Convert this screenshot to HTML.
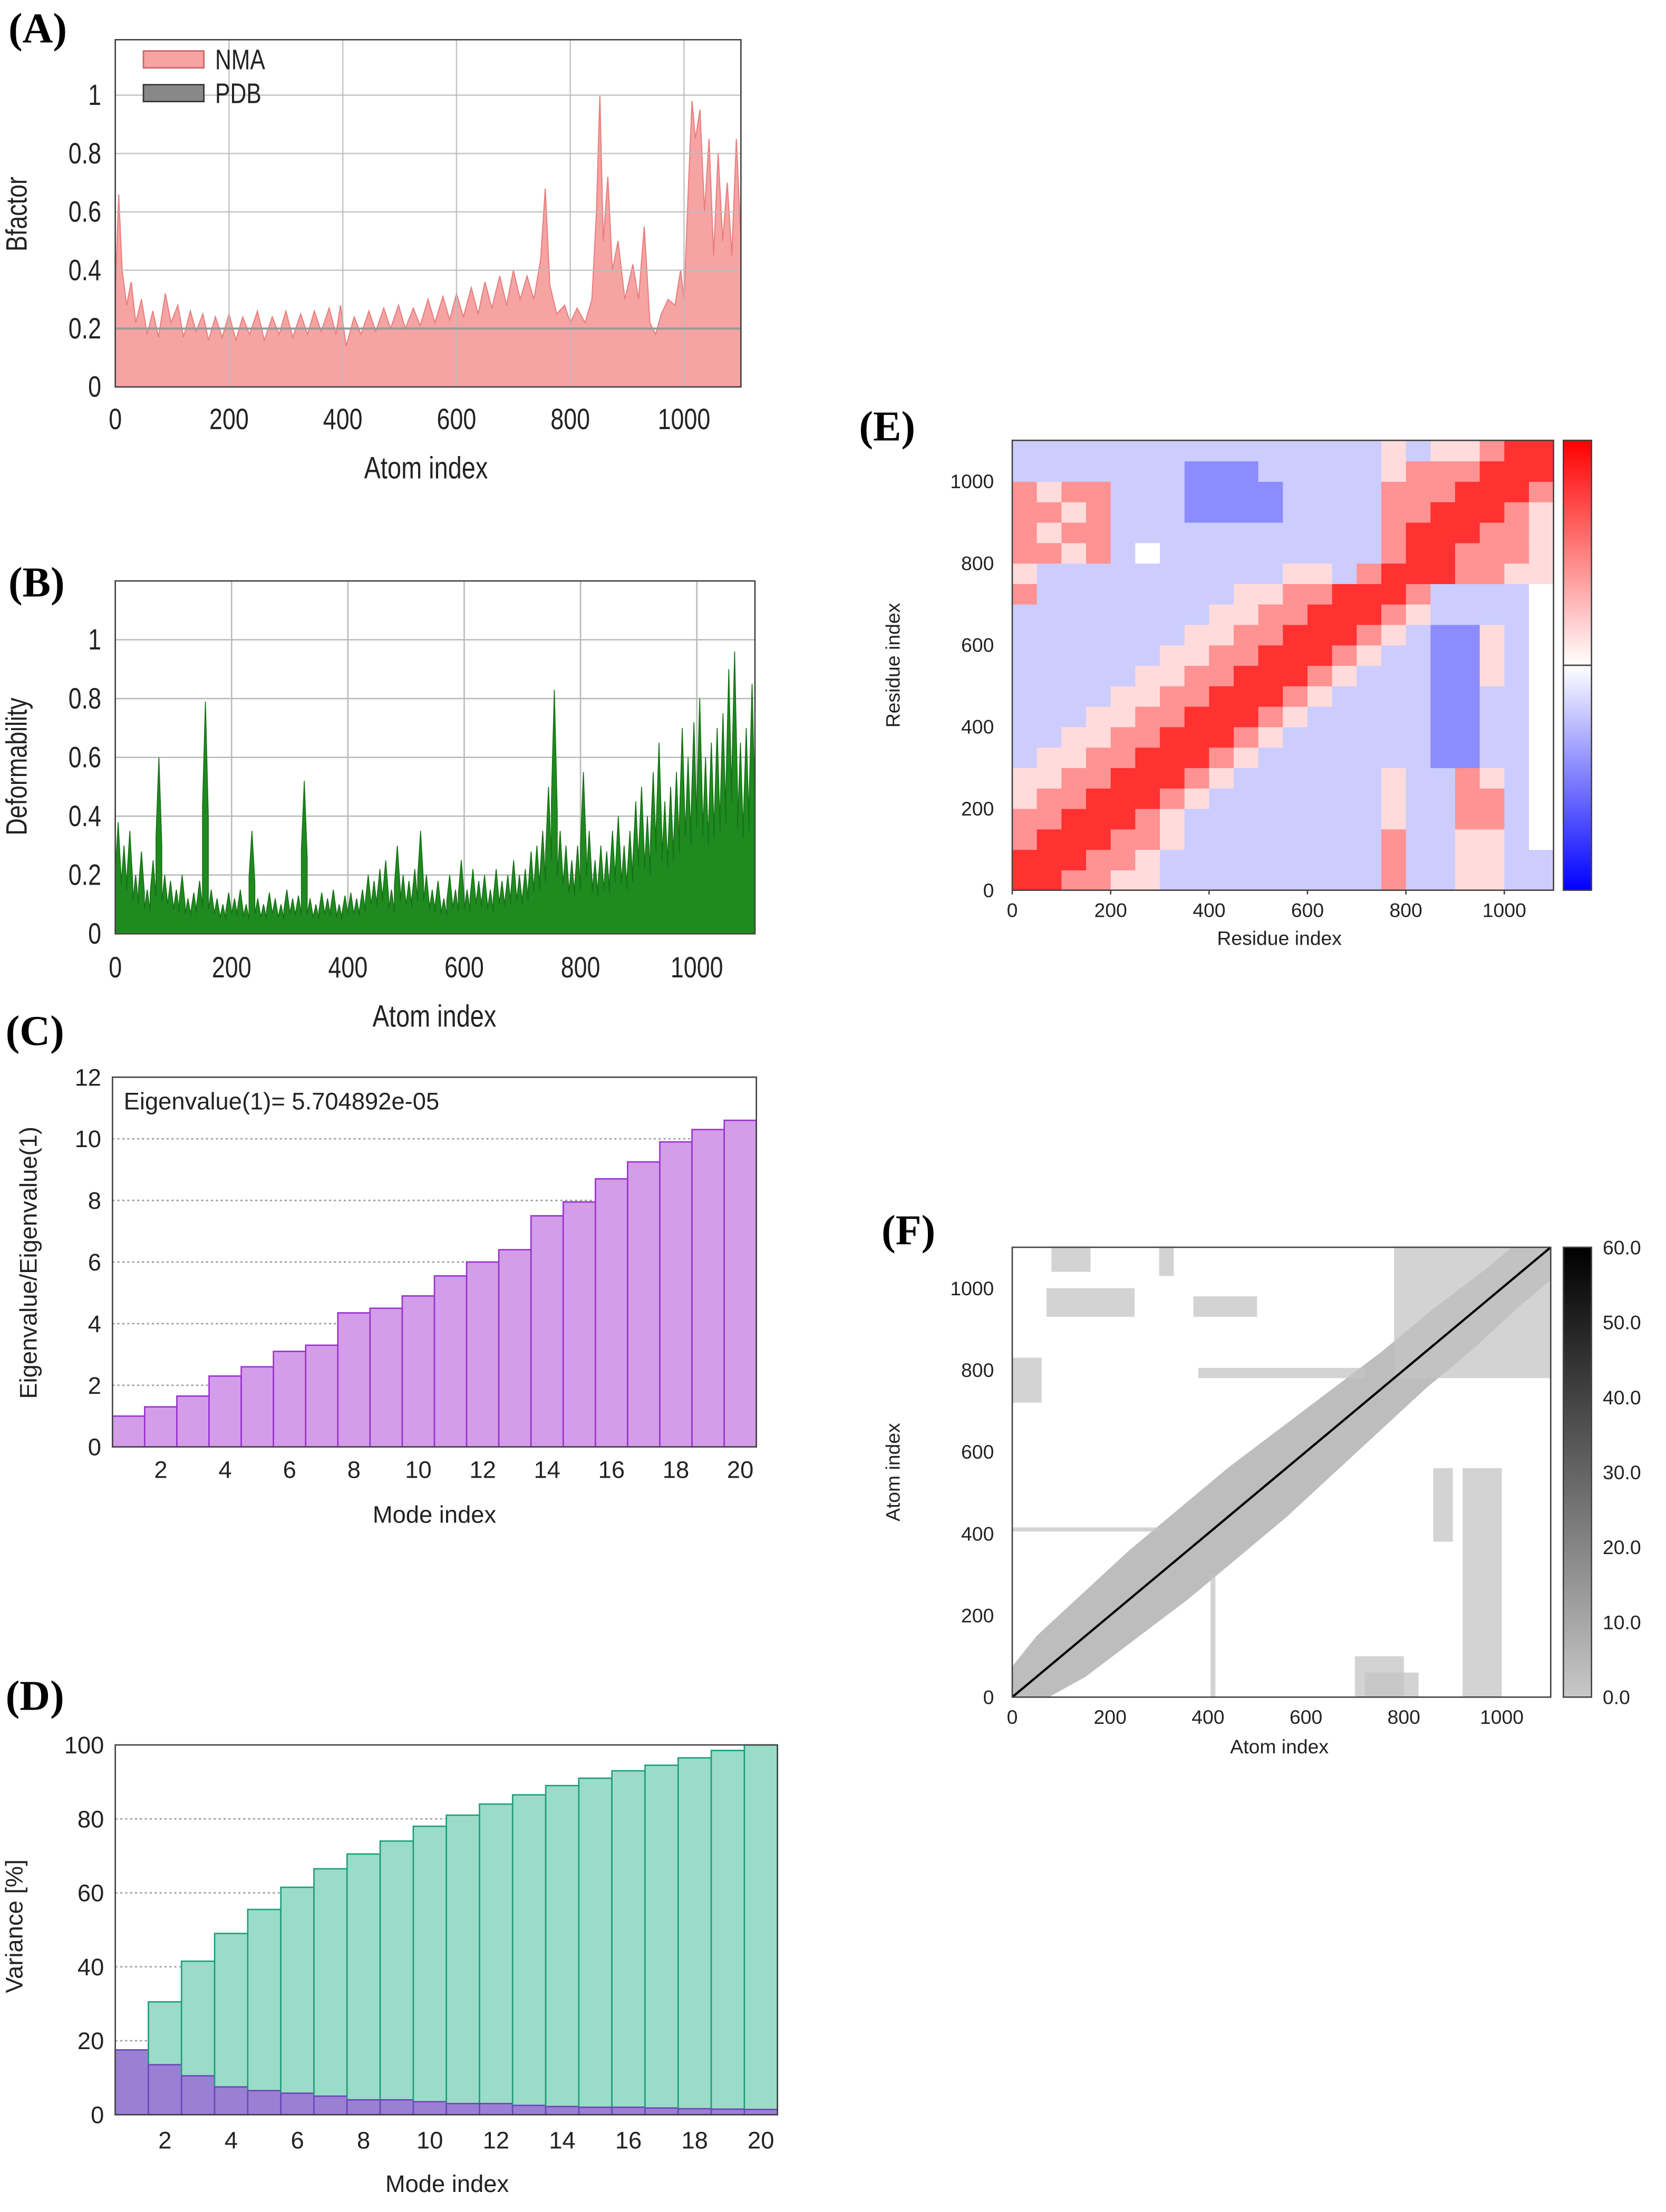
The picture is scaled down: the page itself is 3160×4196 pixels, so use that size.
<!DOCTYPE html>
<html><head><meta charset="utf-8"><style>
html,body{margin:0;padding:0;background:#fff;}
svg{display:block;}
text{font-family:"Liberation Sans",sans-serif;fill:#222;}
.pl{font-family:"Liberation Serif",serif;font-weight:bold;font-size:30px;fill:#000;}
.sm{font-family:"Liberation Sans",sans-serif;}
</style></head><body>
<svg id="fig" width="3160" height="4196" viewBox="0 0 1185 1573" xmlns="http://www.w3.org/2000/svg">
<defs><clipPath id="clipF"><rect x="720" y="887" width="383" height="320"/></clipPath></defs>
<text class="pl" x="6" y="30">(A)</text>
<text class="pl" x="6" y="424">(B)</text>
<text class="pl" x="4" y="743">(C)</text>
<text class="pl" x="4" y="1216">(D)</text>
<text class="pl" x="611" y="313">(E)</text>
<text class="pl" x="627" y="885">(F)</text>
</svg>
<script>
// ---- data arrays ----
const bfAtoms=[0,6,12,20,28,36,46,56,66,76,88,98,110,120,132,142,154,164,176,188,200,212,224,236,250,262,276,288,300,312,326,338,350,362,376,388,396,406,420,432,446,458,472,484,498,510,524,536,550,562,576,588,600,612,626,638,650,662,676,688,700,712,724,736,748,756,764,776,790,800,812,826,838,846,852,858,866,874,884,896,910,920,930,940,950,960,972,984,994,1000,1008,1014,1020,1028,1036,1044,1052,1060,1068,1076,1084,1092,1100];
const bfValues=[0.32,0.66,0.4,0.28,0.36,0.22,0.3,0.18,0.26,0.17,0.32,0.22,0.28,0.17,0.26,0.19,0.25,0.16,0.24,0.17,0.25,0.16,0.24,0.18,0.26,0.16,0.24,0.18,0.26,0.17,0.25,0.18,0.26,0.19,0.27,0.18,0.28,0.14,0.24,0.18,0.26,0.19,0.27,0.2,0.28,0.2,0.27,0.21,0.3,0.22,0.31,0.23,0.32,0.24,0.34,0.25,0.36,0.27,0.38,0.28,0.4,0.3,0.38,0.3,0.44,0.68,0.35,0.25,0.28,0.22,0.27,0.22,0.3,0.6,1.0,0.5,0.72,0.4,0.5,0.3,0.42,0.3,0.55,0.22,0.18,0.25,0.3,0.28,0.4,0.3,0.7,0.98,0.85,0.95,0.6,0.85,0.45,0.8,0.5,0.7,0.45,0.85,0.5];
const pdbLevel=0.2;
const defValues=[.38,.3,.35,.2,.28,.15,.25,.6,.2,.18,.15,.2,.12,.14,.18,.79,.15,.12,.1,.14,.12,.15,.1,.35,.12,.1,.14,.12,.1,.15,.12,.13,.52,.12,.1,.14,.12,.15,.1,.13,.14,.12,.15,.2,.18,.22,.25,.15,.3,.2,.18,.22,.35,.2,.15,.18,.12,.2,.15,.25,.15,.22,.18,.2,.15,.22,.18,.2,.25,.2,.22,.28,.3,.35,.5,.83,.35,.3,.25,.3,.55,.35,.25,.3,.28,.35,.4,.3,.35,.45,.5,.4,.55,.65,.45,.5,.55,.7,.6,.72,.8,.6,.65,.7,.75,.9,.96,.65,.7,.85];
const defStep=10;
const modes=[1,2,3,4,5,6,7,8,9,10,11,12,13,14,15,16,17,18,19,20];
const eigRatio=[1,1.3,1.65,2.3,2.6,3.1,3.3,4.35,4.5,4.9,5.55,6,6.4,7.5,7.95,8.7,9.25,9.9,10.3,10.6];
const varCum=[17.5,30.5,41.5,49,55.5,61.5,66.5,70.5,74,78,81,84,86.5,89,91,93,94.5,96.5,98.5,100];
const varInd=[17.5,13.5,10.5,7.5,6.5,5.8,5,4,4,3.5,3,3,2.5,2.2,2,2,1.8,1.6,1.5,1.4];
const atomTicks=[0,200,400,600,800,1000];
const bfTicks=[0,0.2,0.4,0.6,0.8,1];
const eigTicks=[0,2,4,6,8,10,12];
const varTicks=[0,20,40,60,80,100];
const modeTicks=[2,4,6,8,10,12,14,16,18,20];
const resTicks=[0,200,400,600,800,1000];
const ccStep=50;
const ccLevels={R:0.85,r:0.45,p:0.15,w:0,b:-0.2,B:-0.45};
const ccRows=[
"RRrrppbbbbbbbbbrbbppbb","RRRrrpbbbbbbbbbrbbppbb","rRRRrrpbbbbbbbbrbbppbw","rrRRRrpbbbbbbbbpbbrrbw",
"prrRRRrpbbbbbbbpbbrrbw","pprrRRRrpbbbbbbpbbrpbw","bpprrRRRrpbbbbbbbBBbbw","bbpprrRRRrpbbbbbbBBbbw",
"bbbpprrRRRrpbbbbbBBbbw","bbbbpprrRRRrpbbbbBBbbw","bbbbbpprrRRRrpbbbBBpbw","bbbbbbpprrRRRrpbbBBpbw",
"bbbbbbbpprrRRRrpbBBpbw","bbbbbbbbpprrRRRrpbbbbw","rbbbbbbbbpprrRRRrbbbbw","pbbbbbbbbbbppbrRRRrrpp",
"rrprbwbbbbbbbbbrRRrrrp","rprrbbbbbbbbbbbrRRRrrp","rrprbbbBBBBbbbbrrRRRrp","rprrbbbBBBBbbbbrrrRRRr",
"bbbbbbbBBBbbbbbprrrRRR","bbbbbbbbbbbbbbbpbpprRR"];
const contactClusters=[[0,60,720,830],[720,830,0,60],[70,250,930,1000],[370,500,930,980],[80,160,1040,1100],[0,300,405,415],[405,415,0,300],[380,720,780,805],[920,1000,0,560],[860,900,380,560],[700,800,0,100],[780,1100,780,1100],[300,330,1030,1100]];
const bandCenters=[0,100,200,300,400,500,600,700,800,900,1000,1100];
const bandHalfWidth=[30,50,55,60,60,60,55,50,45,45,40,40];
const cbTicks=[0,10,20,30,40,50,60];

// ---- helpers ----
const svg=document.getElementById('fig');const NS='http://www.w3.org/2000/svg';
function el(t,a,txt,parent){const e=document.createElementNS(NS,t);for(const k in a)e.setAttribute(k,a[k]);if(txt!==undefined)e.textContent=txt;(parent||svg).appendChild(e);return e;}
function lin(d0,d1,r0,r1){return v=>r0+(v-d0)/(d1-d0)*(r1-r0);}
// narrow text: horizontally condensed
function ntext(x,y,size,anchor,txt,parent,rot){const s=0.8;const a={x:x/s,y:y,'font-size':size,'text-anchor':anchor,transform:'scale('+s+',1)'};
if(rot){a.x=x;a.y=y;a.transform='translate('+x+','+y+') rotate(-90) scale('+s+',1) translate('+(-x)+','+(-y)+')';}
return el('text',a,txt,parent);}

// ---- Panel A ----
(function(){
const L=82,R=527,T=28,B=275;const x=lin(0,1100,L,R),y=lin(0,1.19,B,T);
const g=el('g',{});
let d='M'+x(0)+','+y(0);bfAtoms.forEach((a,i)=>{d+=' L'+x(a)+','+y(bfValues[i]);});d+=' L'+x(1100)+','+y(0)+'Z';
const area=el('path',{d:d,fill:'#f6a3a3',stroke:'#e88080','stroke-width':0.8},undefined,g);

atomTicks.forEach(t=>{el('line',{x1:x(t),x2:x(t),y1:T,y2:B,stroke:'#bbb','stroke-width':1,opacity:0.8},undefined,g);
const tx=ntext(x(t),B+30,21,'middle',t,g);});
bfTicks.forEach(t=>{el('line',{x1:L,x2:R,y1:y(t),y2:y(t),stroke:'#bbb','stroke-width':1,opacity:0.8},undefined,g);
const tx=ntext(L-10,y(t)+7,21,'end',t,g);});
const pdb=el('line',{x1:L,x2:R,y1:y(pdbLevel),y2:y(pdbLevel),stroke:'#999','stroke-width':1.5},undefined,g);

el('rect',{x:L,y:T,width:R-L,height:B-T,fill:'none',stroke:'#444','stroke-width':1},undefined,g);
const le1=el('g',{},undefined,g);
el('rect',{x:102,y:36,width:43,height:12,fill:'#f6a3a3',stroke:'#d06060'},undefined,le1);ntext(153,49,20,'start','NMA',le1);
const le2=el('g',{},undefined,g);
el('rect',{x:102,y:60,width:43,height:12,fill:'#888',stroke:'#333'},undefined,le2);ntext(153,73,20,'start','PDB',le2);
const yt=ntext(19,152,21,'middle','Bfactor',g,true);
const xt=ntext(303,340,22,'middle','Atom index',g);
})();

// ---- Panel B ----
(function(){
const L=82,R=537,T=413,B=664;const x=lin(0,1100,L,R),y=lin(0,1.2,B,T);
const g=el('g',{});
atomTicks.forEach(t=>{el('line',{x1:x(t),x2:x(t),y1:T,y2:B,stroke:'#bbb','stroke-width':1},undefined,g);
const tx=ntext(x(t),B+31,21,'middle',t,g);});
bfTicks.forEach(t=>{el('line',{x1:L,x2:R,y1:y(t),y2:y(t),stroke:'#bbb','stroke-width':1},undefined,g);
const tx=ntext(L-10,y(t)+7,21,'end',t,g);});
let d='M'+x(0)+','+y(0);defValues.forEach((v,i)=>{const a=i*defStep;d+=' L'+x(a)+','+y(v*0.55)+' L'+x(a+defStep*0.5)+','+y(v)+' L'+x(a+defStep)+','+y(v*0.5);});d+=' L'+x(1100)+','+y(0)+'Z';
const p=el('path',{d:d,fill:'#1f8a1f',stroke:'#157015','stroke-width':0.6},undefined,g);
el('rect',{x:L,y:T,width:R-L,height:B-T,fill:'none',stroke:'#444','stroke-width':1},undefined,g);
const yt=ntext(19,545,21,'middle','Deformability',g,true);
const xt=ntext(309,730,22,'middle','Atom index',g);
})();

// ---- Panel C ----
(function(){
const L=80,R=538,T=766,B=1029;const bw=(R-L)/20;const x=m=>L+(m-0.5)*bw,y=lin(0,12,B,T);
const g=el('g',{});
eigTicks.forEach(t=>{if(t>0&&t<12)el('line',{x1:L,x2:R,y1:y(t),y2:y(t),stroke:'#999','stroke-width':1,'stroke-dasharray':'1.5,2'},undefined,g);
const tx=el('text',{x:L-8,y:y(t)+6,'font-size':17,'text-anchor':'end',class:'sm'},t,g);});
modes.forEach((m,i)=>{const b=el('rect',{x:x(m)-bw/2,y:y(eigRatio[i]),width:bw,height:B-y(eigRatio[i]),fill:'#d39de9',stroke:'#9a32cf','stroke-width':1},undefined,g);
});
modeTicks.forEach(t=>{const tx=el('text',{x:x(t),y:B+22,'font-size':17,'text-anchor':'middle',class:'sm'},t,g);});
el('rect',{x:L,y:T,width:R-L,height:B-T,fill:'none',stroke:'#444','stroke-width':1},undefined,g);
const ann=el('text',{x:88,y:789,'font-size':17,class:'sm'},'Eigenvalue(1)= 5.704892e-05',g);
const yt=el('text',{x:26,y:898,'font-size':17,'text-anchor':'middle',class:'sm',transform:'rotate(-90 26 898)'},'Eigenvalue/Eigenvalue(1)',g);
const xt=el('text',{x:309,y:1083,'font-size':17,'text-anchor':'middle',class:'sm'},'Mode index',g);
})();

// ---- Panel D ----
(function(){
const L=82,R=553,T=1241,B=1504;const bw=(R-L)/20;const x=m=>L+(m-0.5)*bw,y=lin(0,100,B,T);
const g=el('g',{});
varTicks.forEach(t=>{if(t>0&&t<100)el('line',{x1:L,x2:R,y1:y(t),y2:y(t),stroke:'#999','stroke-width':1,'stroke-dasharray':'1.5,2'},undefined,g);
const tx=el('text',{x:L-8,y:y(t)+6,'font-size':17,'text-anchor':'end',class:'sm'},t,g);});
modes.forEach((m,i)=>{const b=el('rect',{x:x(m)-bw/2,y:y(varCum[i]),width:bw,height:B-y(varCum[i]),fill:'#9adcc7',stroke:'#1f9e7c','stroke-width':1},undefined,g);

const c=el('rect',{x:x(m)-bw/2,y:y(varInd[i]),width:bw,height:B-y(varInd[i]),fill:'#9a80d4',stroke:'#6e46b8','stroke-width':1},undefined,g);
});
modeTicks.forEach(t=>{const tx=el('text',{x:x(t),y:B+24,'font-size':17,'text-anchor':'middle',class:'sm'},t,g);});
el('rect',{x:L,y:T,width:R-L,height:B-T,fill:'none',stroke:'#444','stroke-width':1},undefined,g);
const yt=el('text',{x:16,y:1370,'font-size':17,'text-anchor':'middle',class:'sm',transform:'rotate(-90 16 1370)'},'Variance [%]',g);
const xt=el('text',{x:318,y:1559,'font-size':17,'text-anchor':'middle',class:'sm'},'Mode index',g);
})();

// ---- Panel E ----
(function(){
const L=720,R=1105,T=313,B=633;const x=lin(0,1100,L,R),y=lin(0,1100,B,T);
const g=el('g',{});
function col(v){let r,gg,b;if(v>=0){r=255;gg=b=Math.round(255*(1-v*0.95));}else{b=255;r=gg=Math.round(255*(1+v*1.0));}return `rgb(${r},${gg},${b})`;}
ccRows.forEach((row,i)=>{for(let j=0;j<row.length;j++){const v=ccLevels[row[j]];
const c=el('rect',{x:x(j*ccStep),y:y((i+1)*ccStep),width:x(ccStep)-x(0)+0.4,height:y(0)-y(ccStep)+0.4,fill:col(v)},undefined,g);
}});
el('rect',{x:L,y:T,width:R-L,height:B-T,fill:'none',stroke:'#444','stroke-width':1},undefined,g);
resTicks.forEach(t=>{el('line',{x1:x(t),x2:x(t),y1:B,y2:B+3,stroke:'#444'},undefined,g);
const tx=el('text',{x:x(t),y:B+19,'font-size':14,'text-anchor':'middle',class:'sm'},t,g);
const ty=el('text',{x:L-13,y:y(t)+5,'font-size':14,'text-anchor':'end',class:'sm'},t,g);});
const xt=el('text',{x:910,y:672,'font-size':14,'text-anchor':'middle',class:'sm'},'Residue index',g);
const yt=el('text',{x:640,y:473,'font-size':14,'text-anchor':'middle',class:'sm',transform:'rotate(-90 640 473)'},'Residue index',g);
const defs=el('defs',{});const lg=el('linearGradient',{id:'cbE',x1:0,y1:1,x2:0,y2:0},undefined,defs);
el('stop',{offset:0,'stop-color':'#0000ff'},undefined,lg);el('stop',{offset:0.5,'stop-color':'#ffffff'},undefined,lg);el('stop',{offset:1,'stop-color':'#ff0000'},undefined,lg);
const cb=el('rect',{x:1112,y:313,width:20,height:320,fill:'url(#cbE)',stroke:'#444'},undefined,g);
el('line',{x1:1112,x2:1132,y1:473,y2:473,stroke:'#444'},undefined,g);
})();

// ---- Panel F ----
(function(){
const L=720,R=1103,T=887,B=1207;const x=lin(0,1100,L,R),y=lin(0,1100,B,T);
const g=el('g',{});
el('rect',{x:L,y:T,width:R-L,height:B-T,fill:'#fff'},undefined,g);
const cg=el('g',{'clip-path':'url(#clipF)'},undefined,g);
let up='',dn='';bandCenters.forEach((c,i)=>{up+=(i?' L':'M')+x(c-bandHalfWidth[i])+','+y(c+bandHalfWidth[i]);});
for(let i=bandCenters.length-1;i>=0;i--){const c=bandCenters[i];dn+=' L'+x(c+bandHalfWidth[i])+','+y(c-bandHalfWidth[i]);}
const band=el('path',{d:up+dn+'Z',fill:'#bdbdbd'},undefined,cg);
contactClusters.forEach(c=>{const r=el('rect',{x:x(c[0]),y:y(c[3]),width:x(c[1])-x(c[0]),height:y(c[2])-y(c[3]),fill:'#c4c4c4',opacity:0.75},undefined,cg);
});
const dl=el('line',{x1:x(0),y1:y(0),x2:x(1100),y2:y(1100),stroke:'#000','stroke-width':1.6},undefined,cg);
el('rect',{x:L,y:T,width:R-L,height:B-T,fill:'none',stroke:'#444','stroke-width':1},undefined,g);
resTicks.forEach(t=>{const tx=el('text',{x:x(t),y:B+19,'font-size':14,'text-anchor':'middle',class:'sm'},t,g);
const ty=el('text',{x:L-13,y:y(t)+5,'font-size':14,'text-anchor':'end',class:'sm'},t,g);});
const xt=el('text',{x:910,y:1247,'font-size':14,'text-anchor':'middle',class:'sm'},'Atom index',g);
const yt=el('text',{x:640,y:1047,'font-size':14,'text-anchor':'middle',class:'sm',transform:'rotate(-90 640 1047)'},'Atom index',g);
const defs=el('defs',{});const lg=el('linearGradient',{id:'cbF',x1:0,y1:1,x2:0,y2:0},undefined,defs);
el('stop',{offset:0,'stop-color':'#c8c8c8'},undefined,lg);el('stop',{offset:1,'stop-color':'#000'},undefined,lg);
const cb=el('rect',{x:1112,y:887,width:20,height:320,fill:'url(#cbF)',stroke:'#444'},undefined,g);
const cy=lin(0,60,1207,887);
cbTicks.forEach(t=>{const tx=el('text',{x:1140,y:cy(t)+5,'font-size':14,class:'sm'},t.toFixed(1),g);});
})();
</script>
</body></html>
